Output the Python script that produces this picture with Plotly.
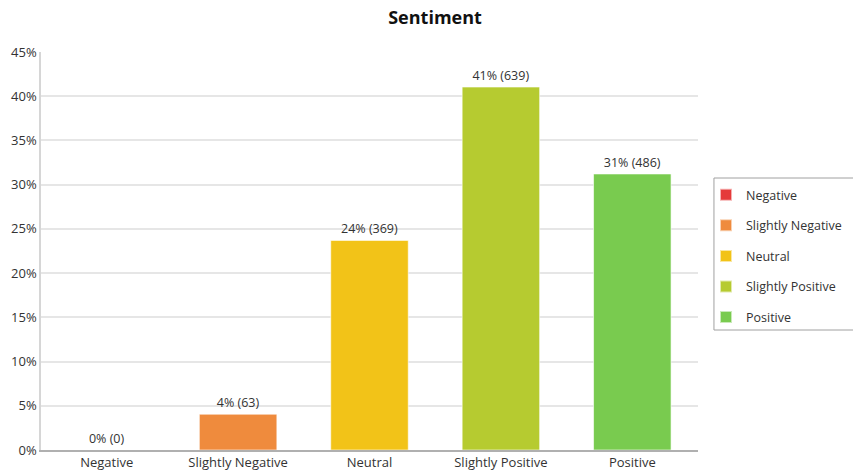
import plotly.graph_objects as go

categories = ["Negative", "Slightly Negative", "Neutral", "Slightly Positive", "Positive"]
counts = [0, 63, 369, 639, 486]
percents = [0.0, 4.05, 23.7, 41.04, 31.21]
colors = ["#E53A3A", "#EF8B3D", "#F2C318", "#B6CB30", "#79CB4F"]
y_ticks = [0, 5, 10, 15, 20, 25, 30, 35, 40, 45]
y_tick_labels = ["0%", "5%", "10%", "15%", "20%", "25%", "30%", "35%", "40%", "45%"]

FONT = "Open Sans"

fig = go.Figure()
for cat, cnt, pct, col in zip(categories, counts, percents, colors):
    fig.add_trace(go.Bar(
        x=[cat], y=[pct], name=cat, legendgroup=cat,
        marker=dict(color=col, line=dict(color="rgba(255,255,255,0.6)", width=1)),
        width=0.59,
        text=[f"{round(pct)}% ({cnt})"], textposition="outside",
        textfont=dict(family=FONT, size=12.5, color="#333333"),
        cliponaxis=False,
    ))

fig.update_layout(
    width=853, height=474,
    barmode="overlay",
    plot_bgcolor="white", paper_bgcolor="white",
    margin=dict(l=41, r=155, t=52, b=24, autoexpand=False),
    title=dict(text="<b>Sentiment</b>", x=0.51, xanchor="center", y=0.962, yanchor="middle",
               font=dict(family=FONT, size=18, color="#111111")),
    font=dict(family=FONT, size=13, color="#333333"),
    showlegend=True,
    legend=dict(x=1.0122, xanchor="left", y=0.678, yanchor="top",
                borderwidth=0, bgcolor="rgba(0,0,0,0)",
                tracegroupgap=11.3, font=dict(family=FONT, size=12.5, color="#333333"),
                itemsizing="constant"),
    shapes=[dict(type="rect", xref="paper", yref="paper",
                 x0=1.0243, x1=1.25, y0=0.3015, y1=0.6834,
                 line=dict(color="#a0a0a0", width=1), fillcolor="rgba(0,0,0,0)", layer="below")],
)
fig.update_xaxes(categoryorder="array", categoryarray=categories,
                 showline=True, linecolor="#b0b0b0", linewidth=1.5,
                 showgrid=False, ticks="", tickfont=dict(size=13, color="#333333"))
fig.update_yaxes(range=[0, 45], tickmode="array", tickvals=y_ticks, ticktext=y_tick_labels,
                 showgrid=True, gridcolor="#e6e6e6", gridwidth=1.5,
                 showline=True, linecolor="#d6d6d6", linewidth=1.5,
                 zeroline=False, ticks="", tickfont=dict(size=13, color="#333333"))

fig.write_html("out.html")
